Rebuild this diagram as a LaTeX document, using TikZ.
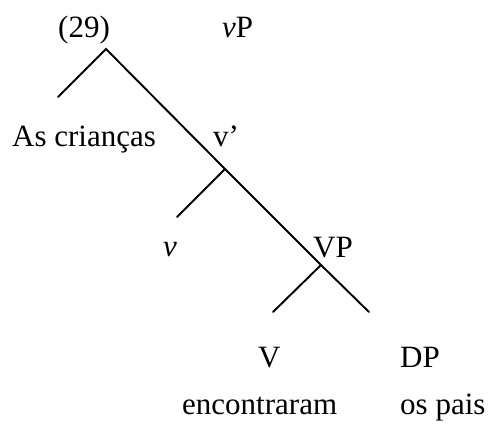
\documentclass[tikz,border=0pt]{standalone}
\usepackage{fontspec}
\setmainfont{Liberation Serif}
\begin{document}
\begin{tikzpicture}[x=1pt,y=-1pt,
  lbl/.style={inner sep=0pt, font=\fontsize{31}{37}\selectfont, anchor=base west},
  branch/.style={line width=1.9pt, line cap=round}]
\useasboundingbox (0,0) rectangle (493,427);
% labels
\node[lbl] (ex) at (58,38) {(29)};
\node[lbl] (vP) at (222,38) {\textit{v}P};
\node[lbl] (spec) at (12,147) {As crianças};
\node[lbl] (vbarl) at (213,147) {v’};
\node[lbl] (vh) at (163,257) {\textit{v}};
\node[lbl] (VPl) at (313,258) {VP};
\node[lbl] (Vl) at (258,368) {V};
\node[lbl] (DPl) at (400,368) {DP};
\node[lbl] (enc) at (182,415) {encontraram};
\node[lbl] (os) at (400,415) {os pais};
% tree points
\coordinate (top) at (106,49);
\coordinate (specend) at (58,97);
\coordinate (vbar) at (225,169);
\coordinate (vhend) at (177,217);
\coordinate (VPp) at (321,265);
\coordinate (Vend) at (273,312);
\coordinate (DPend) at (369,312);
% branches
\draw[branch] (specend) -- (top) -- (vbar) -- (VPp) -- (DPend);
\draw[branch] (vbar) -- (vhend);
\draw[branch] (VPp) -- (Vend);
\end{tikzpicture}
\end{document}
